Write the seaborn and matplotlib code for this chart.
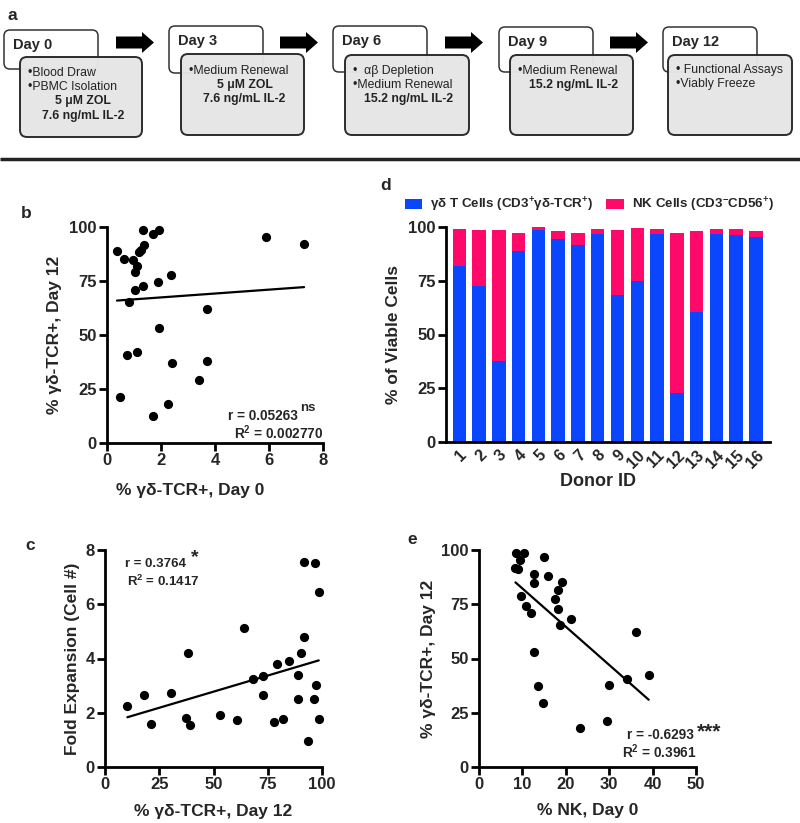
import numpy as np
import pandas as pd
import matplotlib
matplotlib.use("Agg")
import matplotlib.pyplot as plt
import seaborn as sns
from matplotlib.patches import FancyBboxPatch, FancyArrow, Patch

# ---------------- data ----------------
# panel b
b_gd_day0 = [0.37, 0.62, 0.80, 0.74, 0.49, 0.98, 1.11, 1.05, 1.05, 1.17, 1.26, 1.38, 1.35, 1.35,
             1.11, 1.72, 1.91, 1.88, 1.93, 1.70, 2.38, 2.41, 2.25, 3.72, 3.69, 3.42, 5.88, 7.30]
b_gd_day12 = [88.9, 85.3, 65.4, 40.6, 21.3, 84.9, 81.8, 79.2, 71.0, 88.4, 89.5, 91.5, 98.5, 72.7,
              42.3, 96.9, 98.5, 74.5, 53.2, 12.3, 77.6, 37.2, 18.2, 62.2, 37.8, 29.3, 95.4, 92.0]
# panel c
c_gd_day12 = [10.3, 18.0, 21.1, 30.2, 37.3, 38.1, 39.1, 53.0, 60.7, 63.9, 68.4, 72.6, 72.6, 77.7,
              79.4, 81.8, 84.7, 88.9, 88.9, 90.4, 91.5, 91.7, 93.5, 96.1, 97.2, 96.9, 98.5, 98.5]
c_fold = [2.24, 2.66, 1.60, 2.74, 1.81, 4.22, 1.53, 1.91, 1.72, 5.13, 3.24, 3.37, 2.67, 1.65,
          3.79, 1.78, 3.89, 3.38, 2.49, 4.21, 4.79, 7.56, 0.97, 2.52, 3.03, 7.51, 6.44, 1.77]
# panel d
donors = [str(i) for i in range(1, 17)]
d_gd = [81.9, 72.7, 37.8, 88.7, 98.4, 94.4, 91.8, 96.9, 68.2, 74.9, 96.9, 22.8, 60.5, 96.9, 96.1, 95.2]
d_nk = [17.3, 25.9, 60.8, 8.4, 1.4, 3.7, 5.4, 2.3, 30.6, 24.5, 2.3, 74.4, 37.6, 2.0, 2.8, 2.8]
# panel e
e_nk_day0 = [8.6, 10.3, 9.4, 8.4, 9.0, 9.6, 10.8, 11.9, 12.7, 12.7, 12.7, 13.7, 14.8, 14.9,
             16.0, 17.5, 18.3, 19.2, 18.1, 18.7, 21.3, 23.3, 29.4, 30.0, 34.0, 36.2, 39.1]
e_gd_day12 = [98.5, 98.5, 95.4, 91.5, 91.2, 78.8, 74.3, 71.1, 88.9, 84.6, 53.1, 37.4, 29.5, 96.9,
              88.0, 77.4, 81.5, 85.4, 72.6, 65.4, 68.2, 18.2, 21.2, 37.7, 40.6, 62.0, 42.2]

# panel a timeline
days = ["Day 0", "Day 3", "Day 6", "Day 9", "Day 12"]
steps = [
    [("•Blood Draw", "l"), ("•PBMC Isolation", "l"), ("5 μM ZOL", "b"), ("7.6 ng/mL IL-2", "b")],
    [("•Medium Renewal", "l"), ("5 μM ZOL", "b"), ("7.6 ng/mL IL-2", "b")],
    [("•  αβ Depletion", "l"), ("•Medium Renewal", "l"), ("15.2 ng/mL IL-2", "b")],
    [("•Medium Renewal", "l"), ("15.2 ng/mL IL-2", "b")],
    [("• Functional Assays", "l"), ("•Viably Freeze", "l")],
]

# ---------------- style ----------------
sns.set_style("ticks")
plt.rcParams['font.family'] = ['Liberation Sans', 'DejaVu Sans']
plt.rcParams['mathtext.fontset'] = 'custom'
plt.rcParams['mathtext.rm'] = 'Liberation Sans'
plt.rcParams['mathtext.bf'] = 'Liberation Sans:bold'
plt.rcParams['mathtext.default'] = 'bf'

W, H = 800, 823
fig = plt.figure(figsize=(W / 100, H / 100), dpi=100)


def add_ax(x0, y0, x1, y1):
    return fig.add_axes([x0 / W, 1 - y1 / H, (x1 - x0) / W, (y1 - y0) / H])


BLUE = "#0B46FF"
PINK = "#FF0A6A"
LW = 2.0
TICK_FS = 12
LAB_FS = 12.5


def style(ax):
    sns.despine(ax=ax)
    for s in ["left", "bottom"]:
        ax.spines[s].set_linewidth(LW)
        ax.spines[s].set_color("black")
    ax.tick_params(width=LW, length=6, labelsize=TICK_FS, color="black", pad=1.5)
    for lab in ax.get_xticklabels() + ax.get_yticklabels():
        lab.set_fontweight("bold")


def scatter_panel(ax, x, y):
    df = pd.DataFrame({"x": x, "y": y})
    sns.scatterplot(data=df, x="x", y="y", ax=ax, color="black", s=44, edgecolor="black",
                    linewidth=0, clip_on=False, zorder=3)
    sns.regplot(data=df, x="x", y="y", ax=ax, scatter=False, ci=None, truncate=True,
                line_kws={"color": "black", "lw": 1.6})


# ---------------- panel b ----------------
axb = add_ax(107, 227, 323, 443)
scatter_panel(axb, b_gd_day0, b_gd_day12)
axb.set_xlim(0, 8)
axb.set_ylim(0, 100)
axb.set_xticks([0, 2, 4, 6, 8])
axb.set_yticks([0, 25, 50, 75, 100])
style(axb)
axb.set_xlabel("% γδ-TCR+, Day 0", fontsize=LAB_FS, fontweight="bold")
axb.set_ylabel("% γδ-TCR+, Day 12", fontsize=LAB_FS, fontweight="bold")
axb.xaxis.set_label_coords((190 - 107) / 216, -(483 - 443) / 216)
axb.yaxis.set_label_coords(-(107 - 62) / 216, 0.5)

# ---------------- panel c ----------------
axc = add_ax(105, 550, 322, 767)
scatter_panel(axc, c_gd_day12, c_fold)
axc.set_xlim(0, 100)
axc.set_ylim(0, 8)
axc.set_xticks([0, 25, 50, 75, 100])
axc.set_yticks([0, 2, 4, 6, 8])
style(axc)
axc.set_xlabel("% γδ-TCR+, Day 12", fontsize=LAB_FS, fontweight="bold")
axc.set_ylabel("Fold Expansion (Cell #)", fontsize=LAB_FS, fontweight="bold")
axc.xaxis.set_label_coords(0.5, -(804 - 767) / 217)
axc.yaxis.set_label_coords(-(105 - 80) / 217, 0.5)

# ---------------- panel e ----------------
axe = add_ax(479, 550, 696, 767)
scatter_panel(axe, e_nk_day0, e_gd_day12)
axe.set_xlim(0, 50)
axe.set_ylim(0, 100)
axe.set_xticks([0, 10, 20, 30, 40, 50])
axe.set_yticks([0, 25, 50, 75, 100])
style(axe)
axe.set_xlabel("% NK, Day 0", fontsize=LAB_FS, fontweight="bold")
axe.set_ylabel("% γδ-TCR+, Day 12", fontsize=LAB_FS, fontweight="bold")
axe.xaxis.set_label_coords(0.5, -(803 - 767) / 217)
axe.yaxis.set_label_coords(-(479 - 436) / 217, 0.5)

# ---------------- panel d ----------------
axd = add_ax(446, 227, 770, 442)
d_total = [g + n for g, n in zip(d_gd, d_nk)]
sns.barplot(x=donors, y=d_total, ax=axd, color=PINK, width=0.68, linewidth=0, saturation=1)
sns.barplot(x=donors, y=d_gd, ax=axd, color=BLUE, width=0.68, linewidth=0, saturation=1)
axd.set_xlim(-0.67, 15.71)
axd.set_ylim(0, 100)
axd.set_yticks([0, 25, 50, 75, 100])
style(axd)
axd.tick_params(axis="x", length=0, pad=4, labelsize=11.5)
for lab in axd.get_xticklabels():
    lab.set_rotation(45)
    lab.set_ha("right")
    lab.set_va("top")
    lab.set_rotation_mode("anchor")
axd.set_xlabel("Donor ID", fontsize=LAB_FS + 0.5, fontweight="bold")
axd.set_ylabel("% of Viable Cells", fontsize=LAB_FS, fontweight="bold")
axd.xaxis.set_label_coords((598 - 446) / 324, -(473 - 442) / 215)
axd.yaxis.set_label_coords(-(446 - 401) / 324, 0.5)
handles = [Patch(facecolor=BLUE, edgecolor="none"), Patch(facecolor=PINK, edgecolor="none")]
labels = ["γδ T Cells (CD3$^{+}$γδ-TCR$^{+}$)", "NK Cells (CD3$^{-}$CD56$^{+}$)"]
axd.legend(handles, labels, ncol=2, frameon=False, loc="center",
           bbox_to_anchor=((589 - 446) / 324, (442 - 205) / 215),
           prop={"weight": "bold", "size": 9.6}, handlelength=1.3, handleheight=0.7,
           handletextpad=0.6, columnspacing=1.0, borderaxespad=0)

# ---------------- overlay (panel a + annotations) ----------------
ov = fig.add_axes([0, 0, 1, 1], zorder=10)
ov.set_xlim(0, W)
ov.set_ylim(H, 0)
ov.axis("off")
ov.patch.set_visible(False)

back_x = [4, 169, 333, 499, 663]
back_y = [(30, 69), (26, 73), (26, 72), (27, 72), (27, 72)]
front_x = [(20, 142), (181, 304), (345, 469), (510, 633), (668, 792)]
front_y = [(57, 137), (54, 135), (55, 135), (55, 135), (55, 135)]
text_y0 = [73, 71, 71, 71, 70]
arrow_x = [116, 280, 445, 610]

for i in range(5):
    bx = back_x[i]
    by0, by1 = back_y[i]
    ov.add_patch(FancyBboxPatch((bx, by0), 94, by1 - by0,
                                boxstyle="round,pad=0,rounding_size=6",
                                facecolor="white", edgecolor="#333333", lw=1.1))
    ov.text(bx + 9, by0 + 15, days[i], fontsize=10.5, fontweight="bold",
            ha="left", va="center")
    fx0, fx1 = front_x[i]
    fy0, fy1 = front_y[i]
    ov.add_patch(FancyBboxPatch((fx0, fy0), fx1 - fx0, fy1 - fy0,
                                boxstyle="round,pad=0,rounding_size=7",
                                facecolor="#E6E6E6", edgecolor="#262626", lw=1.4, alpha=0.97))
    for j, (txt, kind) in enumerate(steps[i]):
        yy = text_y0[i] + j * 14.2
        if kind == "l":
            ov.text(fx0 + 8, yy, txt, fontsize=8.8, ha="left", va="center", color="#222222")
        else:
            ov.text((fx0 + fx1) / 2 + 2, yy, txt, fontsize=8.8, fontweight="bold",
                    ha="center", va="center", color="#222222")

for ax0 in arrow_x:
    ov.add_patch(FancyArrow(ax0, 42.5, 38, 0, width=12, head_width=21, head_length=12,
                            length_includes_head=True, color="black", lw=0))

ov.plot([0, W], [159, 159], color="#222222", lw=2.5, solid_capstyle="butt")

# panel letters
for letter, (x, y) in {"a": (12, 15), "b": (26, 213), "c": (30, 545),
                       "d": (386, 185), "e": (412, 540)}.items():
    ov.text(x, y, letter, fontsize=12.5, fontweight="bold", ha="center", va="center")

# statistics annotations
ANN = 9.8
ov.text(298, 416, "r = 0.05263", fontsize=ANN, fontweight="bold", ha="right", va="center")
ov.text(300, 408, "ns", fontsize=9.5, fontweight="bold", ha="left", va="center")
ov.text(323, 433, "R$^{2}$ = 0.002770", fontsize=ANN, fontweight="bold", ha="right", va="center")

ov.text(125, 564, "r = 0.3764", fontsize=9.5, fontweight="bold", ha="left", va="center")
ov.text(191, 558, "*", fontsize=14, fontweight="bold", ha="left", va="center")
ov.text(127, 581, "R$^{2}$ = 0.1417", fontsize=9.5, fontweight="bold", ha="left", va="center")

ov.text(694, 735, "r = -0.6293", fontsize=ANN, fontweight="bold", ha="right", va="center")
ov.text(697, 732, "***", fontsize=15, fontweight="bold", ha="left", va="center")
ov.text(697, 752, "R$^{2}$ = 0.3961", fontsize=ANN, fontweight="bold", ha="right", va="center")

fig.savefig("out.png", dpi=100)
